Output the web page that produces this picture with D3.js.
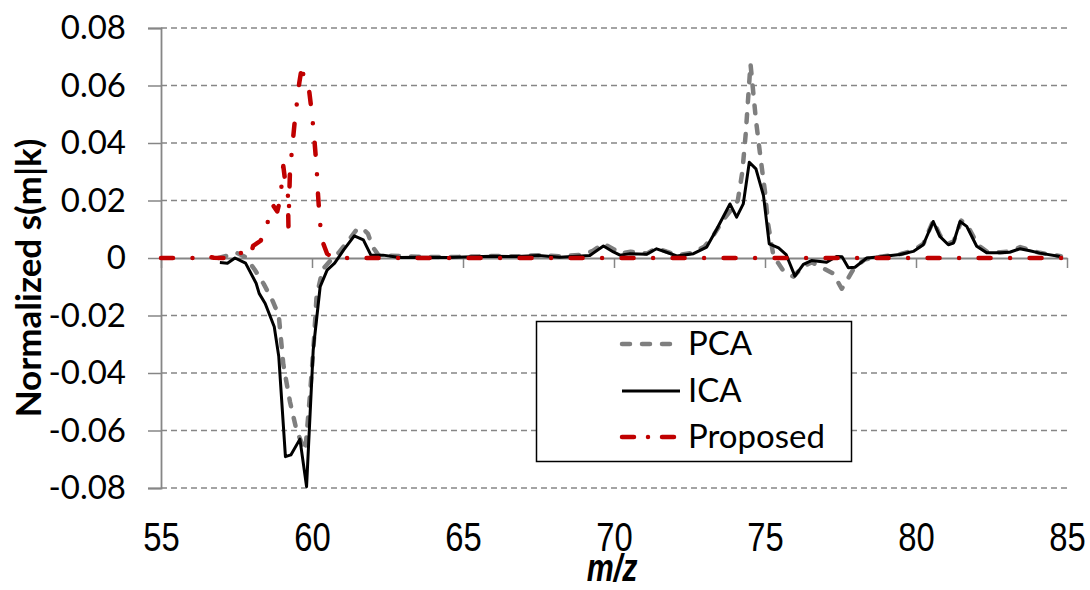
<!DOCTYPE html>
<html>
<head>
<meta charset="utf-8">
<script src="https://cdn.jsdelivr.net/npm/d3@7"></script>
<style>
  html, body { margin: 0; padding: 0; background: #ffffff; }
  svg { display: block; }
  .ylab { font-family: Lato, "Open Sans", sans-serif; font-size: 33px; fill: #000; }
  .xlab { font-family: "Liberation Sans", Arial, sans-serif; font-size: 41px; fill: #000; }
  .legend-text { font-family: Lato, "Open Sans", sans-serif; font-size: 33px; fill: #000; }
</style>
</head>
<body>
<svg id="chart" width="1090" height="590"></svg>
<script>
// Spectral profiles s(m|k), normalized, for three decomposition methods.
const xTicks = [55, 60, 65, 70, 75, 80, 85];
const yTicks = [-0.08, -0.06, -0.04, -0.02, 0, 0.02, 0.04, 0.06, 0.08];
const seriesNames = ["PCA", "ICA", "Proposed"];

const mzPCA = [56.9, 57.2, 57.5, 57.8, 58.1, 58.4, 58.7, 58.9, 59.05, 59.27, 59.49, 59.71, 59.78,
  59.93, 60.05, 60.15, 60.35, 60.6, 60.9, 61.2, 61.45, 61.65, 61.85, 62.0, 62.2, 62.6, 63.5,
  64.5, 65.3, 66.0, 66.8, 67.5, 68.2, 69.0, 69.3, 69.65, 70.0, 70.2, 70.55, 71.1, 71.4, 71.75,
  72.1, 72.6, 73.0, 73.3, 73.6, 73.9, 74.1, 74.25, 74.36, 74.52, 74.7, 74.85, 75.0, 75.1, 75.28,
  75.6, 75.94, 76.25, 76.55, 76.93, 77.26, 77.54, 77.71, 77.95, 78.3, 78.8, 79.5, 79.9, 80.25,
  80.57, 80.8, 81.07, 81.25, 81.5, 81.72, 82.05, 82.35, 82.8, 83.1, 83.45, 83.75, 84.1, 84.8];
const pca = [0.0000, 0.0008, 0.0018, 0.0003, -0.0040, -0.0090, -0.0150, -0.0200, -0.0370, -0.0500,
  -0.0600, -0.0656, -0.0670, -0.0480, -0.0310, -0.0135, -0.0040, -0.0010, 0.0020, 0.0060, 0.0095,
  0.0105, 0.0085, 0.0040, 0.0010, 0.0008, 0.0004, 0.0003, 0.0005, 0.0007, 0.0006, 0.0010, 0.0006,
  0.0012, 0.0025, 0.0050, 0.0030, 0.0015, 0.0022, 0.0016, 0.0035, 0.0022, 0.0010, 0.0018, 0.0040,
  0.0080, 0.0130, 0.0170, 0.0200, 0.0300, 0.0430, 0.0675, 0.0480, 0.0350, 0.0230, 0.0120, 0.0007,
  -0.0043, -0.0065, -0.0030, -0.0015, -0.0036, -0.0054, -0.0107, -0.0078, -0.0035, -0.0005, 0.0004,
  0.0014, 0.0026, 0.0050, 0.0130, 0.0078, 0.0050, 0.0058, 0.0130, 0.0110, 0.0045, 0.0022, 0.0020,
  0.0022, 0.0038, 0.0028, 0.0018, 0.0006];

const mzICA = [56.95, 57.2, 57.45, 57.8, 58.15, 58.25, 58.45, 58.75, 58.9, 59.12, 59.3, 59.6, 59.82,
  60.04, 60.27, 60.5, 60.75, 61.05, 61.4, 61.7, 61.95, 62.35, 62.9, 63.5, 64.5, 65.3, 66.0, 66.8,
  67.5, 68.2, 69.2, 69.65, 69.98, 70.2, 70.53, 71.08, 71.41, 71.74, 72.08, 72.63, 73.07, 73.4,
  73.84, 74.06, 74.28, 74.48, 74.7, 74.95, 75.14, 75.45, 75.7, 75.99, 76.27, 76.54, 77.04, 77.37,
  77.55, 77.76, 77.98, 78.37, 78.81, 79.47, 79.91, 80.24, 80.57, 80.79, 81.07, 81.24, 81.46, 81.68,
  82.01, 82.34, 82.78, 83.1, 83.44, 83.77, 84.1, 84.77];
const ica = [-0.0016, -0.0018, 0.0000, -0.0018, -0.0088, -0.0123, -0.0158, -0.0239, -0.0343, -0.0691,
  -0.0685, -0.0630, -0.0795, -0.0320, -0.0100, -0.0042, -0.0018, 0.0028, 0.0077, 0.0063, 0.0010,
  0.0010, 0.0002, 0.0003, 0.0002, 0.0004, 0.0006, 0.0005, 0.0009, 0.0003, 0.0009, 0.0042, 0.0021,
  0.0010, 0.0015, 0.0013, 0.0032, 0.0020, 0.0007, 0.0015, 0.0038, 0.0100, 0.0188, 0.0142, 0.0188,
  0.0333, 0.0310, 0.0217, 0.0049, 0.0035, 0.0012, -0.0063, -0.0022, -0.0009, -0.0015, 0.0005,
  0.0004, -0.0034, -0.0032, 0.0000, 0.0004, 0.0012, 0.0023, 0.0046, 0.0127, 0.0075, 0.0046, 0.0052,
  0.0127, 0.0110, 0.0041, 0.0018, 0.0018, 0.0020, 0.0032, 0.0025, 0.0017, 0.0005];

const mzProposed = [55.0, 56.2, 56.45, 56.75, 57.2, 57.45, 57.6, 57.75, 57.95, 58.05, 58.3, 58.45,
  58.7, 58.85, 58.95, 59.05, 59.12, 59.2, 59.22, 59.27, 59.35, 59.42, 59.5, 59.58, 59.68, 59.73,
  59.9, 60.0, 60.08, 60.15, 60.2, 60.26, 60.35, 60.5, 60.7, 85.0];
const proposed = [0, 0, 0.0008, 0.0001, 0, 0.0012, 0.0022, 0.0008, 0.0004, 0.0042, 0.0060, 0.0095,
  0.0185, 0.0162, 0.0205, 0.0320, 0.0260, 0.0230, 0.0110, 0.0300, 0.0390, 0.0466, 0.0540, 0.0610,
  0.0675, 0.0615, 0.0587, 0.0500, 0.0410, 0.0320, 0.0220, 0.0126, 0.0057, 0.0015, 0, 0];

const svg = d3.select("#chart");
const x = d3.scaleLinear().domain([55, 85]).range([161, 1067]);
const y = d3.scaleLinear().domain([-0.08, 0.08]).range([488, 28]);
const gridColor = "#868686";
const narrow = 0.8; // horizontal squeeze for the condensed m/z lettering

// horizontal dashed gridlines
svg.append("g")
  .selectAll("line")
  .data(yTicks.filter(v => v !== 0))
  .join("line")
  .attr("x1", x(55)).attr("x2", x(85))
  .attr("y1", d => y(d)).attr("y2", d => y(d))
  .attr("stroke", gridColor).attr("stroke-width", 1.5)
  .attr("stroke-dasharray", "6,4");

// y axis with labels
const yAxis = svg.append("g")
  .attr("transform", `translate(${x(55)},0)`)
  .call(d3.axisLeft(y).tickValues(yTicks).tickSize(13).tickPadding(22)
    .tickFormat(d => d === 0 ? "0" : d.toFixed(2)));
yAxis.attr("font-size", null).attr("font-family", null);
yAxis.select(".domain").attr("stroke", gridColor).attr("stroke-width", 1.8);
yAxis.selectAll(".tick line").attr("stroke", gridColor).attr("stroke-width", 1.5);
yAxis.selectAll(".tick text").attr("class", "ylab");

// x axis along the zero line, ticks only
const xAxis = svg.append("g")
  .attr("transform", `translate(0,${y(0)})`)
  .call(d3.axisBottom(x).tickValues(xTicks).tickSize(10).tickSizeOuter(0).tickFormat(""));
xAxis.select(".domain").attr("stroke", gridColor).attr("stroke-width", 1.8);
xAxis.selectAll(".tick line").attr("stroke", gridColor).attr("stroke-width", 1.5);

// x tick labels below the plot, in condensed lettering
const xLabels = svg.append("g")
  .attr("transform", `translate(0,${y(-0.08)})`)
  .call(d3.axisBottom(x).tickValues(xTicks).tickSize(0).tickPadding(0).tickFormat(d3.format("d")));
xLabels.attr("font-size", null).attr("font-family", null);
xLabels.select(".domain").remove();
xLabels.selectAll(".tick text")
  .attr("class", "xlab").attr("dy", null).attr("y", 0)
  .attr("transform", `translate(0,63) scale(${narrow},1)`);

// axis titles
svg.append("text")
  .attr("transform", `translate(${(x(55) + x(85)) / 2 - 2},581) scale(${narrow},1)`)
  .attr("text-anchor", "middle")
  .style("font-family", "'Liberation Sans', Arial, sans-serif")
  .style("font-size", "38px").style("font-weight", "bold").style("font-style", "italic")
  .text("m/z");

svg.append("text")
  .attr("transform", "translate(41,278) rotate(-90)")
  .attr("text-anchor", "middle")
  .style("font-family", "Lato, 'Open Sans', sans-serif")
  .style("font-size", "35px").style("font-weight", "bold")
  .text("Normalized s(m|k)");

// series
const styles = {
  PCA: { color: "#7f7f7f", width: 4.5, dash: "8,12", cap: "round" },
  ICA: { color: "#000000", width: 3, dash: null, cap: "butt" },
  Proposed: { color: "#c00000", width: 4.5, dash: "12,19.5,0,19.5", cap: "round" }
};
const seriesData = {
  PCA: mzPCA.map((m, i) => [m, pca[i]]),
  ICA: mzICA.map((m, i) => [m, ica[i]]),
  Proposed: mzProposed.map((m, i) => [m, proposed[i]])
};
const line = d3.line().x(d => x(d[0])).y(d => y(d[1]));

seriesNames.forEach(name => {
  const s = styles[name];
  svg.append("path")
    .datum(seriesData[name])
    .attr("fill", "none")
    .attr("stroke", s.color)
    .attr("stroke-width", s.width)
    .attr("stroke-linecap", s.cap)
    .attr("stroke-linejoin", "round")
    .attr("stroke-dasharray", s.dash)
    .attr("d", line);
});

// legend
const legend = svg.append("g");
legend.append("rect")
  .attr("x", 536.5).attr("y", 321.5).attr("width", 315).attr("height", 140)
  .attr("fill", "#ffffff").attr("stroke", "#000000").attr("stroke-width", 1.5);
const baselines = [355, 402, 448];
seriesNames.forEach((name, i) => {
  const s = styles[name];
  const ly = baselines[i] - 11;
  legend.append("line")
    .attr("x1", 622).attr("x2", name === "Proposed" ? 682 : 680)
    .attr("y1", ly).attr("y2", ly)
    .attr("stroke", s.color).attr("stroke-width", s.width)
    .attr("stroke-linecap", s.cap)
    .attr("stroke-dasharray", name === "Proposed" ? "12,14,0,14" : s.dash);
  legend.append("text")
    .attr("class", "legend-text")
    .attr("x", 688).attr("y", baselines[i])
    .text(name);
});
</script>
</body>
</html>
